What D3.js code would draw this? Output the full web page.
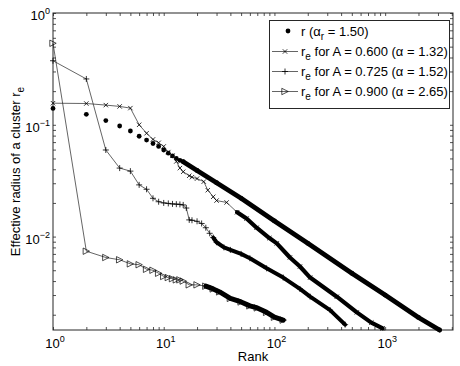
<!DOCTYPE html>
<html>
<head>
<meta charset="utf-8">
<script src="https://cdn.jsdelivr.net/npm/d3@7"></script>
<style>
  body { margin: 0; background: #fff; }
  svg { display: block; font-family: "Liberation Sans", Arial, sans-serif; }
</style>
</head>
<body>
<div id="chart"></div>
<script>
// values (rank, radius)
const rRank = [1,2,3,4,5,6,7,8,9,10,11,12,13,14,15,20,30,50,100,200,500,1000,2000,3100];
const rVal  = [0.140,0.124,0.109,0.0975,0.088,0.079,0.073,0.068,0.064,0.0595,0.0557,0.0527,0.050,0.048,0.0468,0.039,0.0303,0.022,0.0138,0.0087,0.0047,0.0030,0.00189,0.00146];

const a600Rank = [1,2,3,4,5,6,7,8,9,10,11,12,13,14,15,17,18,20,23,25,28,30,37,46,56,69,90,105,138,170,210,366,555,750,950];
const a600Val  = [0.156,0.155,0.150,0.146,0.141,0.100,0.084,0.074,0.069,0.064,0.057,0.053,0.047,0.041,0.038,0.035,0.034,0.033,0.031,0.026,0.0227,0.021,0.0202,0.0165,0.0145,0.0120,0.0097,0.0087,0.0065,0.0054,0.0043,0.0029,0.0021,0.0017,0.00151];

const a725Rank = [1,2,3,4,5,6,7,8,9,10,11,12,13,14,15,16,17,18,20,22,24,26,28,30,35,40,50,60,85,120,170,210,318,435];
const a725Val  = [0.374,0.257,0.0595,0.041,0.0385,0.029,0.0265,0.0220,0.0205,0.0200,0.0198,0.0196,0.0195,0.0194,0.0192,0.018,0.0141,0.014,0.0137,0.0131,0.012,0.0107,0.0098,0.0089,0.0080,0.0076,0.0070,0.0064,0.0052,0.0043,0.0034,0.0029,0.0022,0.00163];

const a900Rank = [1,2,3,4,5,6,7,8,9,10,11,12,13,14,15,17,20,24,28,32,40,50,60,70,85,100,120];
const a900Val  = [0.536,0.0074,0.0065,0.0062,0.0057,0.0056,0.0051,0.0050,0.0047,0.0044,0.0043,0.0042,0.0041,0.0041,0.0040,0.0037,0.0037,0.0036,0.0034,0.0032,0.0028,0.0026,0.0024,0.0023,0.0021,0.0019,0.00179];

const legendText = ["1.50", "0.600", "1.32", "0.725", "1.52", "0.900", "2.65"];
const xExponents = [0, 1, 2, 3];
const yExponents = [0, -1, -2];

const W = 460, H = 366;
const margin = { top: 13, right: 7, bottom: 36, left: 53 };
const width = W - margin.left - margin.right;
const height = H - margin.top - margin.bottom;

const x = d3.scaleLog().domain([1, 4100]).range([margin.left, margin.left + width]);
const y = d3.scaleLog().domain([0.00146, 1]).range([margin.top + height, margin.top]);

const svg = d3.select("#chart").append("svg")
    .attr("width", W)
    .attr("height", H);

// log minor ticks
function logTicks(lo, hi){
    const out = [];
    for (let e = Math.floor(Math.log10(lo)); e <= Math.ceil(Math.log10(hi)); e++) {
        for (let m = 1; m < 10; m++) {
            const v = m * Math.pow(10, e);
            if (v >= lo * 0.999 && v <= hi * 1.001) out.push(v);
        }
    }
    return out;
}
const xMinor = logTicks(1, 4100);
const yMinor = logTicks(0.00146, 1);
const axisColor = "#262626";

function drawAxis(gen, tx, ty){
    const g = svg.append("g").attr("transform", `translate(${tx},${ty})`).call(gen);
    g.select(".domain").remove();
    g.selectAll("line").attr("stroke", axisColor).attr("stroke-width", 0.8);
    return g;
}
drawAxis(d3.axisBottom(x).tickValues(xMinor).tickSize(-3).tickFormat(""), 0, margin.top + height);
drawAxis(d3.axisTop(x).tickValues(xMinor).tickSize(-3).tickFormat(""), 0, margin.top);
drawAxis(d3.axisLeft(y).tickValues(yMinor).tickSize(-3).tickFormat(""), margin.left, 0);
drawAxis(d3.axisRight(y).tickValues(yMinor).tickSize(-3).tickFormat(""), margin.left + width, 0);

svg.append("rect")
    .attr("x", margin.left).attr("y", margin.top)
    .attr("width", width).attr("height", height)
    .attr("fill", "none").attr("stroke", axisColor).attr("stroke-width", 1);

// tick labels 10^n
xExponents.forEach(e => {
    const t = svg.append("text")
        .attr("x", x(Math.pow(10, e)) + 2)
        .attr("y", margin.top + height + 18)
        .attr("text-anchor", "middle")
        .attr("font-size", 13);
    t.append("tspan").text("10");
    t.append("tspan").attr("dy", -6).attr("font-size", 9).text(e);
});
yExponents.forEach(e => {
    const t = svg.append("text")
        .attr("x", margin.left - 3)
        .attr("y", y(Math.pow(10, e)) + 7)
        .attr("text-anchor", "end")
        .attr("font-size", 13);
    t.append("tspan").text("10");
    t.append("tspan").attr("dy", -6).attr("font-size", 9).text(e === 0 ? "0" : "\u2212" + (-e));
});

svg.append("text")
    .attr("x", margin.left + width / 2)
    .attr("y", 361)
    .attr("text-anchor", "middle")
    .attr("font-size", 13)
    .text("Rank");

const yl = svg.append("text")
    .attr("transform", `translate(20,${margin.top + height / 2}) rotate(-90)`)
    .attr("text-anchor", "middle")
    .attr("font-size", 13);
yl.append("tspan").text("Effective radius of a cluster r");
yl.append("tspan").attr("dy", 4).attr("font-size", 10).text("e");

// markers
function marker(g, type, cx, cy){
    if (type === "dot") {
        g.append("circle").attr("cx", cx).attr("cy", cy).attr("r", 2.4).attr("fill", "#000");
    } else if (type === "x") {
        const s = 2.2;
        g.append("path").attr("d", `M${cx-s},${cy-s}L${cx+s},${cy+s}M${cx-s},${cy+s}L${cx+s},${cy-s}`)
            .attr("stroke", "#000").attr("stroke-width", 0.8).attr("fill", "none");
    } else if (type === "plus") {
        const s = 3;
        g.append("path").attr("d", `M${cx-s},${cy}L${cx+s},${cy}M${cx},${cy-s}L${cx},${cy+s}`)
            .attr("stroke", "#000").attr("stroke-width", 0.8).attr("fill", "none");
    } else if (type === "tri") {
        const s = 3.2;
        g.append("path").attr("d", `M${cx+s},${cy}L${cx-s},${cy-s}L${cx-s},${cy+s}Z`)
            .attr("stroke", "#000").attr("stroke-width", 0.7).attr("fill", "none");
    }
}

const series = [
    { rank: rRank, val: rVal, type: "dot", line: false, denseFrom: 15, band: 4.8 },
    { rank: a600Rank, val: a600Val, type: "x", line: true, denseFrom: 40, band: 4.2 },
    { rank: a725Rank, val: a725Val, type: "plus", line: true, denseFrom: 28, band: 4 },
    { rank: a900Rank, val: a900Val, type: "tri", line: true, denseFrom: 24, band: 5 }
];

const lineGen = d3.line().x(d => x(d[0])).y(d => y(d[1]));

series.forEach(s => {
    const pts = s.rank.map((r, i) => [r, s.val[i]]);
    const g = svg.append("g");
    if (s.line) {
        g.append("path").attr("d", lineGen(pts))
            .attr("fill", "none").attr("stroke", "#222").attr("stroke-width", 0.7);
    }
    const dense = pts.filter(d => d[0] >= s.denseFrom);
    g.append("path").attr("d", lineGen(dense))
        .attr("fill", "none").attr("stroke", "#000")
        .attr("stroke-width", s.band)
        .attr("stroke-linecap", "round").attr("stroke-linejoin", "round");
    pts.forEach(d => marker(g, s.type, x(d[0]), y(d[1])));
});

// legend
const lg = svg.append("g");
lg.append("rect").attr("x", 269.5).attr("y", 20.5).attr("width", 180).attr("height", 88)
    .attr("fill", "#fff").attr("stroke", axisColor).attr("stroke-width", 1);
const rowY = [31, 51.5, 71.5, 91.5];
const lx0 = 272, lx1 = 298, tx = 301;
marker(lg, "dot", (lx0 + lx1) / 2 + 3, rowY[0]);
let t = lg.append("text").attr("x", tx).attr("y", rowY[0] + 4.5).attr("font-size", 13);
t.append("tspan").text("r (\u03b1");
t.append("tspan").attr("dy", 4).attr("font-size", 10).text("r");
t.append("tspan").attr("dy", -4).text(" = " + legendText[0] + ")");
["x", "plus", "tri"].forEach((m, i) => {
    const yy = rowY[i + 1];
    lg.append("line").attr("x1", lx0).attr("x2", lx1).attr("y1", yy).attr("y2", yy)
        .attr("stroke", "#222").attr("stroke-width", 0.7);
    marker(lg, m, (lx0 + lx1) / 2, yy);
    const tt = lg.append("text").attr("x", tx).attr("y", yy + 4.5).attr("font-size", 13);
    tt.append("tspan").text("r");
    tt.append("tspan").attr("dy", 4).attr("font-size", 10).text("e");
    tt.append("tspan").attr("dy", -4).text(" for A = " + legendText[1 + i * 2] + " (\u03b1 = " + legendText[2 + i * 2] + ")");
});
</script>
</body>
</html>
